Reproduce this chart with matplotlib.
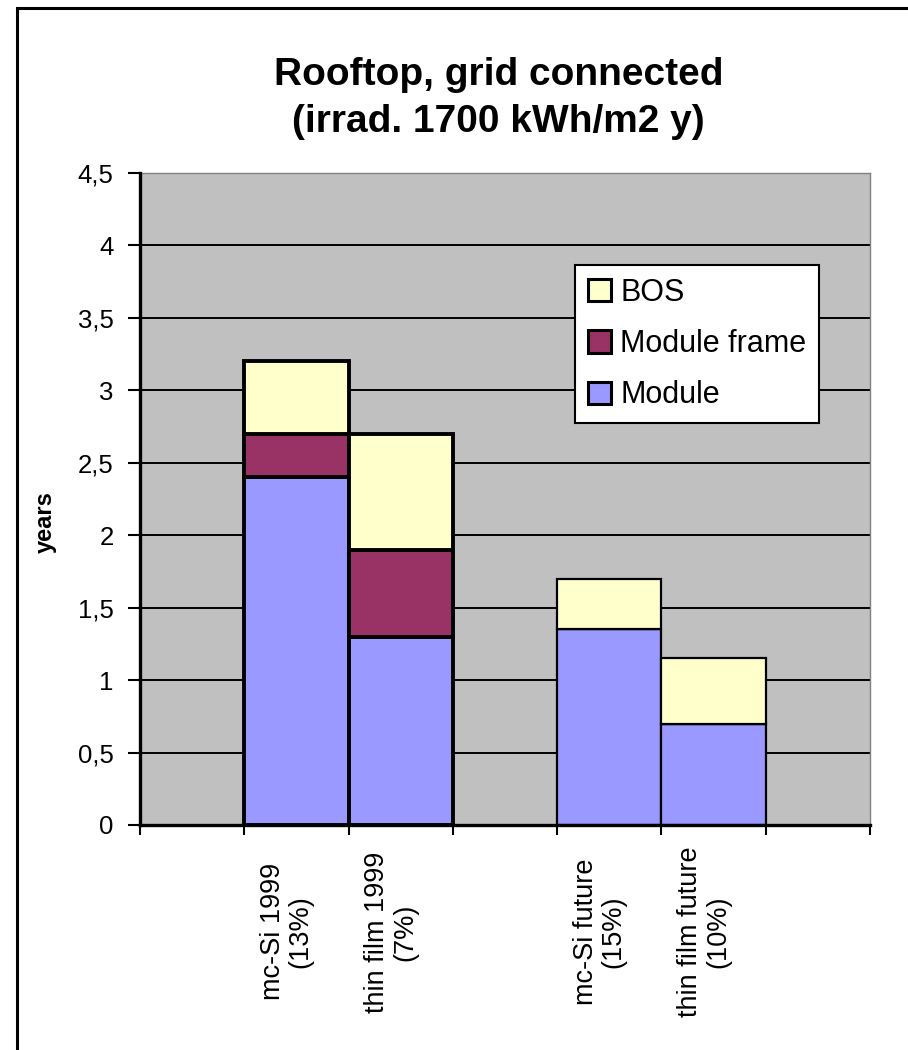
import numpy as np
import matplotlib
matplotlib.use("Agg")
import matplotlib.pyplot as plt
import matplotlib.transforms as mtransforms
from matplotlib.patches import Patch, Rectangle

plt.rcParams['font.family'] = ['Liberation Sans', 'DejaVu Sans']

# slot categories (empty strings are the gaps between the groups)
categories = ['', 'mc-Si 1999\n(13%)', 'thin film 1999\n(7%)', '',
              'mc-Si future\n(15%)', 'thin film future\n(10%)', '']
module = [0, 2.4, 1.3, 0, 1.35, 0.7, 0]
module_frame = [0, 0.3, 0.6, 0, 0.0, 0.0, 0]
bos = [0, 0.5, 0.8, 0, 0.35, 0.45, 0]
edge_widths = [0, 2.8, 2.8, 0, 1.6, 1.6, 0]

series_names = ['Module', 'Module frame', 'BOS']
series_colors = ['#9999FF', '#993366', '#FFFFCC']

yticks = np.arange(0, 4.51, 0.5)
ytick_labels = [('%g' % v).replace('.', ',') for v in yticks]

fig = plt.figure(figsize=(9.08, 10.5), dpi=100)
ax = fig.add_axes([0.1542, 0.2143, 0.8040, 0.6210])
ax.set_facecolor('#C0C0C0')

keep = [i for i, c in enumerate(categories) if c]
x = np.array(keep) + 0.5
bottom = np.zeros(len(keep))
for vals, name, col in zip([module, module_frame, bos], series_names, series_colors):
    h = np.array([vals[i] for i in keep])
    ax.bar(x, h, width=1.0, bottom=bottom, color=col, edgecolor='black',
           linewidth=[edge_widths[i] for i in keep], zorder=3)
    bottom += h

ax.set_xlim(0, len(categories))
ax.set_ylim(0, 4.5)
ax.set_yticks(yticks)
ax.set_yticklabels(ytick_labels, fontsize=18.5)
ax.set_xticks(np.arange(len(categories) + 1))
ax.set_xticklabels([])
ax.tick_params(axis='y', direction='out', length=9, width=1.5, pad=10)
ax.tick_params(axis='x', direction='out', length=7, width=1.5)
ax.yaxis.grid(True, color='black', linewidth=1.4, zorder=1)
ax.set_axisbelow(True)
for s in ['left', 'bottom']:
    ax.spines[s].set_linewidth(2.4)
    ax.spines[s].set_zorder(4)
for s in ['top', 'right']:
    ax.spines[s].set_color('#808080')
    ax.spines[s].set_linewidth(1.0)

# rotated category labels, centred below each slot
trans = mtransforms.blended_transform_factory(ax.transData, ax.transAxes) + \
    mtransforms.ScaledTranslation(-7 / 72, 0, fig.dpi_scale_trans)
for i in keep:
    ax.text(i + 0.5, -0.164, categories[i], transform=trans, rotation=90,
            ha='center', va='center', multialignment='center', fontsize=19.5,
            linespacing=1.1)

fig.text(0.050, 0.503, 'years', rotation=90, fontsize=17, fontweight='bold',
         ha='center', va='center')

fig.text(0.549, 0.906, 'Rooftop, grid connected\n(irrad. 1700 kWh/m2 y)',
         ha='center', va='center', fontsize=28, fontweight='bold', linespacing=1.4)

handles = [Patch(facecolor=c, edgecolor='black', linewidth=2.2) for c in series_colors]
leg = ax.legend(handles[::-1], series_names[::-1], loc='upper left',
                bbox_to_anchor=(0.596, 0.859), fontsize=22, frameon=True,
                fancybox=False, framealpha=1, edgecolor='black',
                handlelength=0.75, handleheight=0.75, handletextpad=0.3,
                labelspacing=0.7, borderpad=0.42, borderaxespad=0)
leg.get_frame().set_linewidth(1.5)
leg.set_zorder(5)

# outer chart border (top and left visible)
fig.add_artist(Rectangle((17 / 908, -0.1), 1.2, 1 - 8 / 1050 + 0.1,
                         transform=fig.transFigure, fill=False,
                         edgecolor='black', linewidth=2.2))

fig.savefig('out.png', dpi=100)
